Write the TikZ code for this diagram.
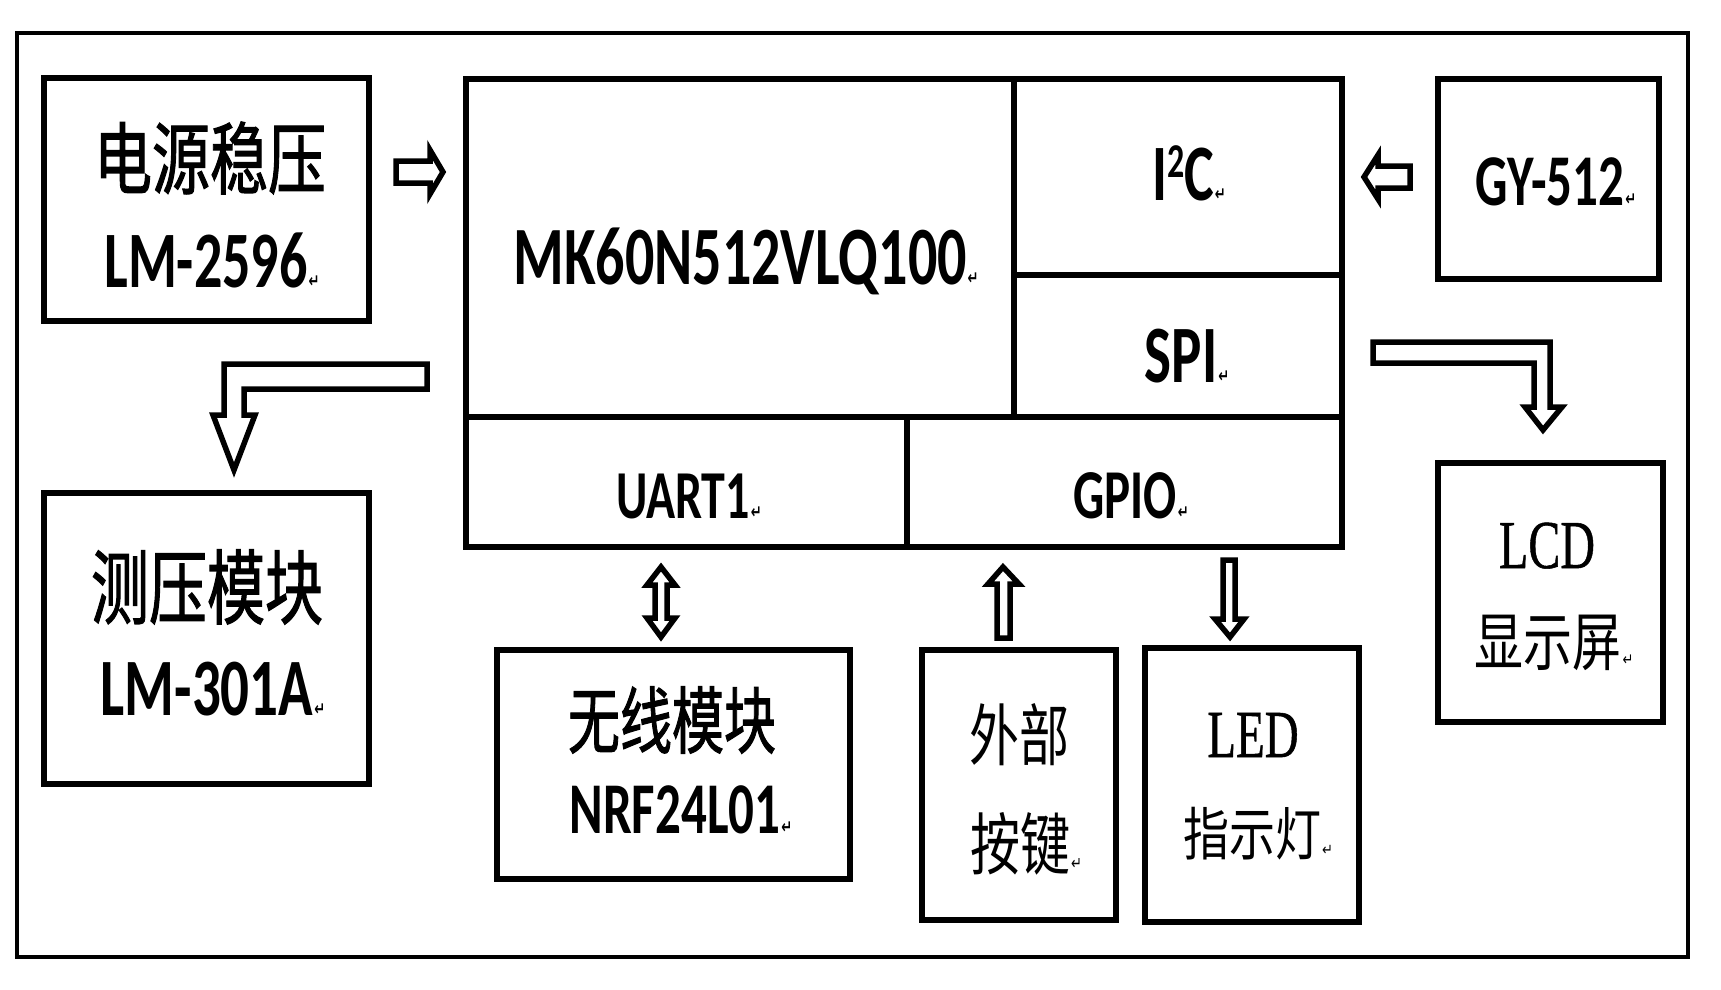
\documentclass[tikz,border=0pt]{standalone}
\usepackage{fontspec}
\usepackage{graphicx}
\setmainfont{Carlito}
\newfontfamily\cjkfam{Noto Sans CJK SC}
\newfontfamily\cjkmedfam{Noto Sans CJK SC}[FakeBold=1.6]
\newfontfamily\tmsfam{Liberation Serif}[FakeBold=0.8]
\newfontfamily\djvfam{DejaVu Sans}
\newcommand\retmark{\rlap{\kern1pt{\djvfam\fontsize{13}{13}\selectfont ↵}}}
\newcommand\latlbl[2]{\scalebox{1}[1.43]{\fontsize{#1}{#1}\selectfont\bfseries #2}}
\newcommand\serlbl[2]{\scalebox{1}[1.43]{\tmsfam\fontsize{#1}{#1}\selectfont #2}}
\newcommand\cjkbold[3]{\scalebox{1}[#2]{\cjkmedfam\fontsize{#1}{#1}\selectfont #3}}
\newcommand\cjkreg[3]{\scalebox{1}[#2]{\cjkfam\fontsize{#1}{#1}\selectfont #3}}
\begin{document}
\begin{tikzpicture}[x=1pt,y=-1pt,
  box/.style={draw=black, line width=6.5pt, inner sep=0pt, outer sep=0pt},
  blk/.style={draw=black, line width=5.5pt, line join=miter, fill=white},
  lbl/.style={inner sep=0pt, outer sep=0pt, text=black}]
\useasboundingbox (0,0) rectangle (1721,990);
\fill[white] (0,0) rectangle (1721,990);
% outer frame
\draw[line width=4.5pt] (17,33) rectangle (1688,957);
% boxes
\node[box, minimum width=325pt, minimum height=243pt] (power) at (206.5,199.5) {};
\node[box, minimum width=325pt, minimum height=291pt] (measure) at (206.5,638.5) {};
\node[box, minimum width=548pt, minimum height=338pt] (mcu) at (740,248) {};
\node[box, minimum width=328pt, minimum height=196pt] (i2c) at (1178,177) {};
\node[box, minimum width=328pt, minimum height=142pt] (spi) at (1178,346) {};
\node[box, minimum width=441pt, minimum height=130pt] (uart) at (686.5,482) {};
\node[box, minimum width=435pt, minimum height=130pt] (gpio) at (1124.5,482) {};
\node[box, minimum width=221pt, minimum height=200pt] (gy) at (1548.5,179) {};
\node[box, minimum width=225pt, minimum height=259pt] (lcd) at (1550.5,592.5) {};
\node[box, minimum width=353pt, minimum height=229pt] (wireless) at (673.5,764.5) {};
\node[box, minimum width=194pt, minimum height=270pt] (keys) at (1019,785) {};
\node[box, minimum width=214pt, minimum height=274pt] (led) at (1252,785) {};
% labels
\node[lbl] (tpow1) at (210,158) {\cjkbold{58}{1.35}{电源稳压}};
\node[lbl, anchor=base] (tpow2) at (206,287) {\latlbl{56}{LM-2596\retmark}};
\node[lbl, anchor=base] (tmcu) at (740,284) {\latlbl{58}{MK60N512VLQ100\retmark}};
\node[lbl, anchor=base] (ti2c) at (1183,200) {\latlbl{56}{I\raisebox{0.28em}{\fontsize{34}{34}\selectfont 2}C\retmark}};
\node[lbl, anchor=base] (tgy) at (1550,205) {\latlbl{51}{GY-512\retmark}};
\node[lbl, anchor=base] (tspi) at (1181,382) {\latlbl{57}{SPI\retmark}};
\node[lbl, anchor=base] (tuart) at (683,518) {\latlbl{48}{UART1\retmark}};
\node[lbl, anchor=base] (tgpio) at (1125,518) {\latlbl{49}{GPIO\retmark}};
\node[lbl] (tmea1) at (207,587) {\cjkbold{58}{1.4}{测压模块}};
\node[lbl, anchor=base] (tmea2) at (207,715) {\latlbl{57}{LM-301A\retmark}};
\node[lbl] (twl1) at (672,720) {\cjkbold{52}{1.4}{无线模块}};
\node[lbl, anchor=base] (twl2) at (675,833) {\latlbl{51}{NRF24L01\retmark}};
\node[lbl, anchor=base] (tlcd1) at (1547,568) {\serlbl{48}{LCD}};
\node[lbl] (tlcd2) at (1548,643) {\cjkreg{49}{1.3}{显示屏\retmark}};
\node[lbl] (tkey1) at (1019,735) {\cjkreg{50}{1.35}{外部}};
\node[lbl] (tkey2) at (1020,844) {\cjkreg{50}{1.35}{按键\retmark}};
\node[lbl, anchor=base] (tled1) at (1253,757) {\serlbl{47}{LED}};
\node[lbl] (tled2) at (1252,834) {\cjkreg{46}{1.25}{指示灯\retmark}};
% block arrows
\draw[blk] (396,161) -- (430,161) -- (430,150) -- (443,172) -- (430,194) -- (430,183) -- (396,183) -- cycle;
\draw[blk] (1364,177) -- (1378,155) -- (1378,166) -- (1410,166) -- (1410,188) -- (1378,188) -- (1378,199) -- cycle;
\draw[blk] (224,364) -- (427,364) -- (427,389) -- (244,389) -- (244,415) -- (255,415) -- (234,470) -- (213,415) -- (224,415) -- cycle;
\draw[blk] (1373,342) -- (1550,342) -- (1550,407) -- (1562,407) -- (1543,430) -- (1525,407) -- (1534,407) -- (1534,363) -- (1373,363) -- cycle;
\draw[blk] (661,567) -- (675,585) -- (667,585) -- (667,618) -- (675,618) -- (661,637) -- (647,618) -- (655,618) -- (655,585) -- (647,585) -- cycle;
\draw[blk] (1003,567) -- (1019,584) -- (1010,584) -- (1010,638) -- (997,638) -- (997,584) -- (988,584) -- cycle;
\draw[blk] (1223,560) -- (1235,560) -- (1235,619) -- (1244,619) -- (1230,637) -- (1215,619) -- (1223,619) -- cycle;
\end{tikzpicture}
\end{document}
